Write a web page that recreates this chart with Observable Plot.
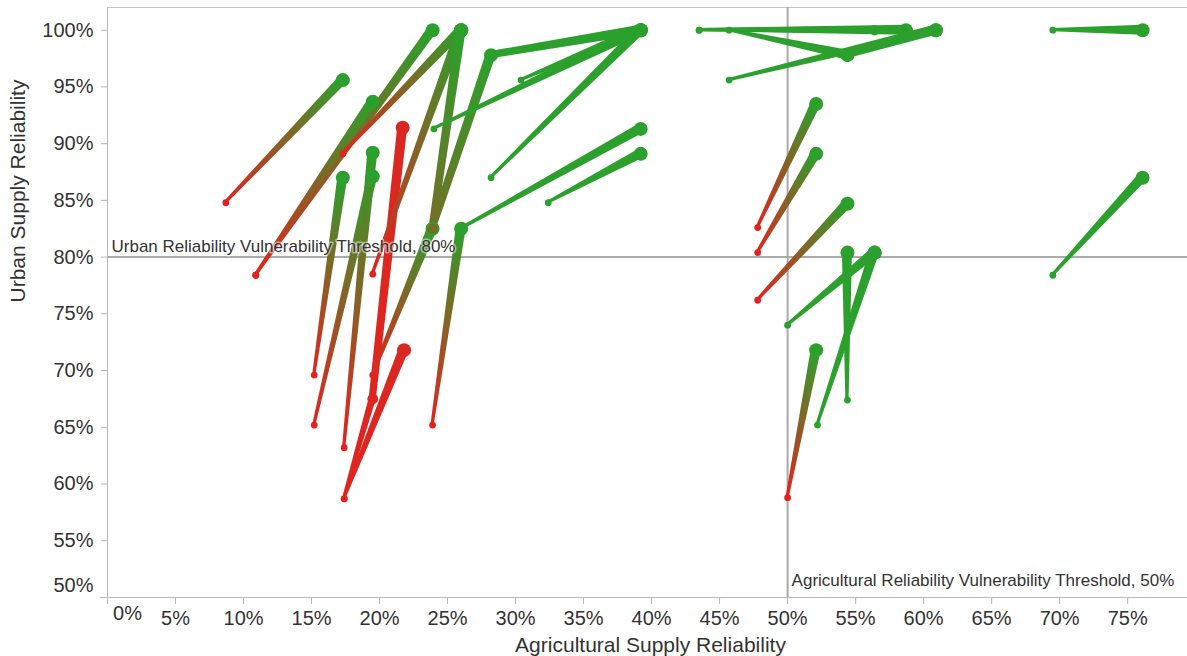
<!DOCTYPE html>
<html><head><meta charset="utf-8">
<script src="https://cdn.jsdelivr.net/npm/d3@7"></script>
<script src="https://cdn.jsdelivr.net/npm/@observablehq/plot@0.6"></script>
<style>body{margin:0;background:#fff;font-family:"Liberation Sans",Arial,sans-serif}</style>
</head><body><div id="chart"></div>
<script>
// Each row is one trajectory segment: agricultural / urban supply reliability (%)
const agriFrom  = [8.7, 10.9, 10.9, 17.3, 15.2, 19.5, 15.2, 17.4, 17.4, 17.4, 19.5, 19.5, 23.9, 23.9, 23.9, 26.0, 32.4, 28.2, 24.0, 30.4, 28.2, 43.5, 43.5, 45.7, 45.7, 54.4, 47.8, 47.8, 47.8, 50.0, 52.2, 54.4, 50.0, 69.5, 69.5];
const urbanFrom = [84.8, 78.4, 78.4, 89.1, 69.6, 67.5, 65.2, 63.2, 58.7, 58.7, 69.6, 78.5, 65.2, 82.5, 82.5, 82.5, 84.8, 87.0, 91.3, 95.6, 97.8, 100, 100, 100, 95.6, 97.8, 82.6, 80.4, 76.2, 74.0, 65.2, 67.4, 58.8, 100, 78.4];
const agriTo    = [17.3, 23.9, 19.5, 26.0, 17.3, 21.7, 19.5, 19.5, 19.5, 21.8, 23.9, 26.0, 26.0, 28.2, 26.0, 39.2, 39.2, 39.2, 39.2, 39.2, 39.2, 58.7, 56.4, 54.4, 60.9, 60.9, 52.1, 52.1, 54.4, 56.4, 56.4, 54.4, 52.1, 76.1, 76.1];
const urbanTo   = [95.6, 100, 93.7, 100, 87.0, 91.4, 87.1, 89.2, 67.5, 71.8, 82.5, 100, 82.5, 97.8, 100, 91.3, 89.1, 100, 100, 100, 100, 100, 100, 97.8, 100, 100, 93.5, 89.1, 84.7, 80.4, 80.4, 80.4, 71.8, 100, 87.0];
// colour score: 0 = vulnerable (red) ... 1 = reliable (green)
const scoreFrom = [0, 0, 0, 0, 0, 0.02, 0, 0, 0, 0, 0, 0, 0, 0.6, 0.6, 1, 1, 1, 1, 1, 1, 1, 1, 1, 1, 1, 0, 0, 0, 1, 1, 1, 0, 1, 1];
const scoreTo   = [1, 1, 1, 1, 1, 0.05, 1, 1, 0.02, 0.05, 1, 1, 1, 1, 1, 1, 1, 1, 1, 1, 1, 1, 1, 1, 1, 1, 1, 1, 1, 1, 1, 1, 1, 1, 1];
// stage along the trajectory: 1 = first, 2 = intermediate, 3 = last
const stageFrom = [1, 1, 1, 1, 1, 2, 1, 1, 1, 1, 1, 1, 1, 2, 2, 1, 1, 1, 1, 1, 2, 1, 1, 1, 1, 2, 1, 1, 1, 1, 1, 1, 1, 1, 1];
const stageTo   = [3, 3, 3, 3, 3, 3, 3, 3, 2, 3, 3, 3, 3, 3, 3, 3, 3, 3, 3, 3, 3, 3, 2, 3, 3, 3, 3, 3, 3, 3, 3, 3, 3, 3, 3];

const xTicks = [0, 5, 10, 15, 20, 25, 30, 35, 40, 45, 50, 55, 60, 65, 70, 75];
const yTicks = [50, 55, 60, 65, 70, 75, 80, 85, 90, 95, 100];
const urbanThreshold = 80;
const agriThreshold = 50;

const segments = agriFrom.map((_, i) => ({
  x1: agriFrom[i], y1: urbanFrom[i], x2: agriTo[i], y2: urbanTo[i],
  c1: scoreFrom[i], c2: scoreTo[i], s1: stageFrom[i], s2: stageTo[i]
}));
const points = segments.flatMap(d => [
  {x: d.x1, y: d.y1, c: d.c1, s: d.s1},
  {x: d.x2, y: d.y2, c: d.c2, s: d.s2}
]).sort((a, b) => a.s - b.s);

const halfWidth = {1: 1.6, 2: 3.6, 3: 5.0};
const fmt = d => d + "%";

function taper(index, scales, values) {
  const X1 = values.x1, Y1 = values.y1, X2 = values.x2, Y2 = values.y2;
  const g = d3.create("svg:g");
  const defs = g.append("defs");
  for (const i of index) {
    const d = segments[i];
    const ax = X1[i], ay = Y1[i], bx = X2[i], by = Y2[i];
    const dx = bx - ax, dy = by - ay, len = Math.hypot(dx, dy) || 1;
    const nx = -dy / len, ny = dx / len;
    const h1 = halfWidth[d.s1], h2 = halfWidth[d.s2];
    const id = "seg-grad-" + i;
    const lg = defs.append("linearGradient").attr("id", id)
      .attr("gradientUnits", "userSpaceOnUse")
      .attr("x1", ax).attr("y1", ay).attr("x2", bx).attr("y2", by);
    lg.append("stop").attr("offset", 0).attr("stop-color", scales.color(d.c1));
    lg.append("stop").attr("offset", 1).attr("stop-color", scales.color(d.c2));
    g.append("path")
      .attr("d", `M${ax + nx * h1},${ay + ny * h1}L${bx + nx * h2},${by + ny * h2}L${bx - nx * h2},${by - ny * h2}L${ax - nx * h1},${ay - ny * h1}Z`)
      .attr("fill", `url(#${id})`);
  }
  return g.node();
}

const chart = Plot.plot({
  width: 1187,
  height: 656,
  marginLeft: 107,
  marginTop: 7,
  marginRight: 0,
  marginBottom: 59,
  style: {fontFamily: "'Liberation Sans', Arial, sans-serif", fontSize: "20px", color: "#333", background: "#fff"},
  x: {domain: [0, 79.4], label: null},
  y: {domain: [50, 102], label: null},
  color: {type: "linear", domain: [0, 1], range: ["#e3221f", "#2ca02c"], interpolate: "rgb"},
  r: {type: "linear", domain: [1, 3], range: [3.4, 7]},
  marks: [
    Plot.frame({anchor: "top", stroke: "#c4c4c4"}),
    Plot.ruleY([50], {stroke: "#b8b8b8", insetLeft: -7}),
    Plot.ruleX([0], {stroke: "#b8b8b8", insetBottom: -7}),
    Plot.axisY(yTicks.filter(d => d > 50), {tickSize: 6, tickPadding: 8, tickFormat: fmt, stroke: "#b8b8b8", fill: "#333", fontSize: 20}),
    Plot.text([50], {y: d => d, frameAnchor: "left", dx: -14, dy: -12, textAnchor: "end", text: fmt, fill: "#333", fontSize: 20}),
    Plot.axisX(xTicks, {tickSize: 7, tickPadding: 6, tickFormat: d => d === 0 ? "" : fmt(d), stroke: "#b8b8b8", fill: "#333", fontSize: 20}),
    Plot.text([0], {x: d => d, frameAnchor: "bottom", dx: 20, dy: 22, text: fmt, fill: "#333", fontSize: 20}),
    Plot.text(["Agricultural Supply Reliability"], {frameAnchor: "bottom", dy: 54, dx: 3, text: d => d, fill: "#333", fontSize: 21}),
    Plot.text(["Urban Supply Reliability"], {frameAnchor: "left", dx: -89, rotate: -90, text: d => d, fill: "#333", fontSize: 21}),
    Plot.ruleY([urbanThreshold], {stroke: "#aaa", strokeWidth: 2}),
    Plot.ruleX([agriThreshold], {stroke: "#aaa", strokeWidth: 2}),
    Plot.link(segments, {x1: "x1", y1: "y1", x2: "x2", y2: "y2", stroke: "c1", render: taper}),
    Plot.dot(points, {x: "x", y: "y", fill: "c", r: "s"}),
    Plot.text([urbanThreshold], {y: d => d, frameAnchor: "left", dx: 4, dy: -11, textAnchor: "start",
      text: d => `Urban Reliability Vulnerability Threshold, ${d}%`, fill: "#333", fontSize: 17,
      stroke: "white", strokeOpacity: 0.5, strokeWidth: 3}),
    Plot.text([agriThreshold], {x: d => d, frameAnchor: "bottom", dx: 4, dy: -12, textAnchor: "start",
      text: d => `Agricultural Reliability Vulnerability Threshold, ${d}%`, fill: "#333", fontSize: 17,
      stroke: "white", strokeOpacity: 0.5, strokeWidth: 3})
  ]
});
document.getElementById("chart").append(chart);
</script>
</body></html>
